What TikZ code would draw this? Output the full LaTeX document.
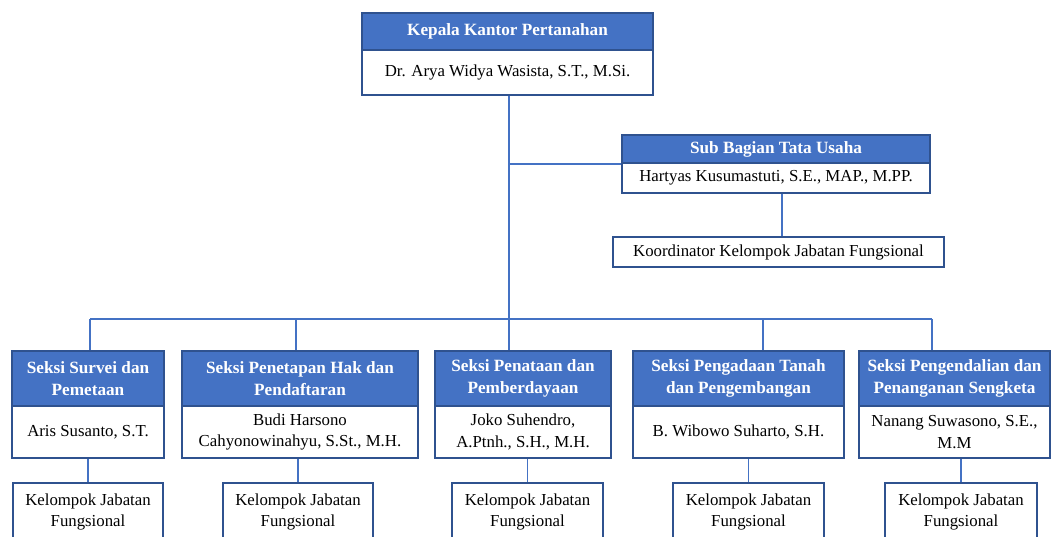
\documentclass[tikz,border=0pt]{standalone}
\usepackage{fontspec}
\setmainfont{Liberation Serif}
\usepackage{tikz}
\usetikzlibrary{positioning,calc}

\definecolor{hdrblue}{HTML}{4472C4}
\definecolor{rimblue}{HTML}{2F528F}

\begin{document}
\begin{tikzpicture}[
  x=1pt, y=-1pt,
  font=\fontsize{16.8}{21.5}\selectfont,
  link/.style={draw=hdrblue, line width=1.6pt},
  head/.style={rectangle, draw=rimblue, line width=1.5pt, fill=hdrblue, text=white, font=\fontsize{17.2}{21.5}\selectfont\bfseries, align=center, inner sep=0pt},
  body/.style={rectangle, draw=rimblue, line width=1.5pt, fill=white, align=center, inner sep=0pt}
]

\def\busy{319}
\def\hy{378.5}
\def\by{432}
\def\ky{512}

\useasboundingbox (0,0) rectangle (1053,537);
\clip (0,0) rectangle (1053,537);

% kepala kantor
\node[head, minimum width=291pt, minimum height=37pt] (kepala) at (507.5,31.5) {Kepala Kantor Pertanahan};
\node[body, minimum width=291pt, minimum height=45pt] (kepalanm) at (507.5,72.5) {Dr. Arya Widya Wasista, S.T., M.Si.};

% tata usaha
\node[head, minimum width=308pt, minimum height=28pt] (tu) at (776,149) {Sub Bagian Tata Usaha};
\node[body, minimum width=308pt, minimum height=30pt] (tunm) at (776,178) {Hartyas Kusumastuti, S.E., MAP., M.PP.};
\node[body, minimum width=331pt, minimum height=30pt] (koord) at (778.5,252) {Koordinator Kelompok Jabatan Fungsional};

% seksi
\node[head, minimum width=152pt, minimum height=55pt] (s1) at (88,\hy) {Seksi Survei dan\\Pemetaan};
\node[body, minimum width=152pt, minimum height=52pt] (n1) at (88,\by) {Aris Susanto, S.T.};
\node[head, minimum width=236pt, minimum height=55pt] (s2) at (300,\hy) {Seksi Penetapan Hak dan\\Pendaftaran};
\node[body, minimum width=236pt, minimum height=52pt] (n2) at (300,\by) {Budi Harsono\\Cahyonowinahyu, S.St., M.H.};
\node[head, minimum width=176pt, minimum height=55pt] (s3) at (523,\hy) {Seksi Penataan dan\\Pemberdayaan};
\node[body, minimum width=176pt, minimum height=52pt] (n3) at (523,\by) {Joko Suhendro,\\A.Ptnh., S.H., M.H.};
\node[head, minimum width=211pt, minimum height=55pt] (s4) at (738.5,\hy) {Seksi Pengadaan Tanah\\dan Pengembangan};
\node[body, minimum width=211pt, minimum height=52pt] (n4) at (738.5,\by) {B. Wibowo Suharto, S.H.};
\node[head, minimum width=191pt, minimum height=55pt] (s5) at (954.5,\hy) {Seksi Pengendalian dan\\Penanganan Sengketa};
\node[body, minimum width=191pt, minimum height=52pt] (n5) at (954.5,\by) {Nanang Suwasono, S.E.,\\M.M};

% kelompok jabatan fungsional
\node[body, minimum width=150pt, minimum height=58pt] (k1) at (88,\ky) {Kelompok Jabatan\\Fungsional};
\node[body, minimum width=150pt, minimum height=58pt] (k2) at (298,\ky) {Kelompok Jabatan\\Fungsional};
\node[body, minimum width=151pt, minimum height=58pt] (k3) at (527.5,\ky) {Kelompok Jabatan\\Fungsional};
\node[body, minimum width=151pt, minimum height=58pt] (k4) at (748.5,\ky) {Kelompok Jabatan\\Fungsional};
\node[body, minimum width=152pt, minimum height=58pt] (k5) at (961,\ky) {Kelompok Jabatan\\Fungsional};

% bus points
\coordinate (b1) at (90,\busy);
\coordinate (b2) at (296,\busy);
\coordinate (b3) at (509,\busy);
\coordinate (b4) at (763,\busy);
\coordinate (b5) at (932,\busy);

\draw[link] (kepalanm.south -| b3) -- (b3);
\draw[link] (b3 |- tu.south west) -- (tu.south west);
\draw[link] (tunm.south -| 782,0) -- (koord.north -| 782,0);
\draw[link] (b1) -- (b5);

\foreach \i in {1,...,5}
  \draw[link] (b\i) -- (b\i |- s\i.north);
\foreach \i in {1,...,5}
  \draw[link] (k\i.north |- n\i.south) -- (k\i.north);

\end{tikzpicture}
\end{document}
